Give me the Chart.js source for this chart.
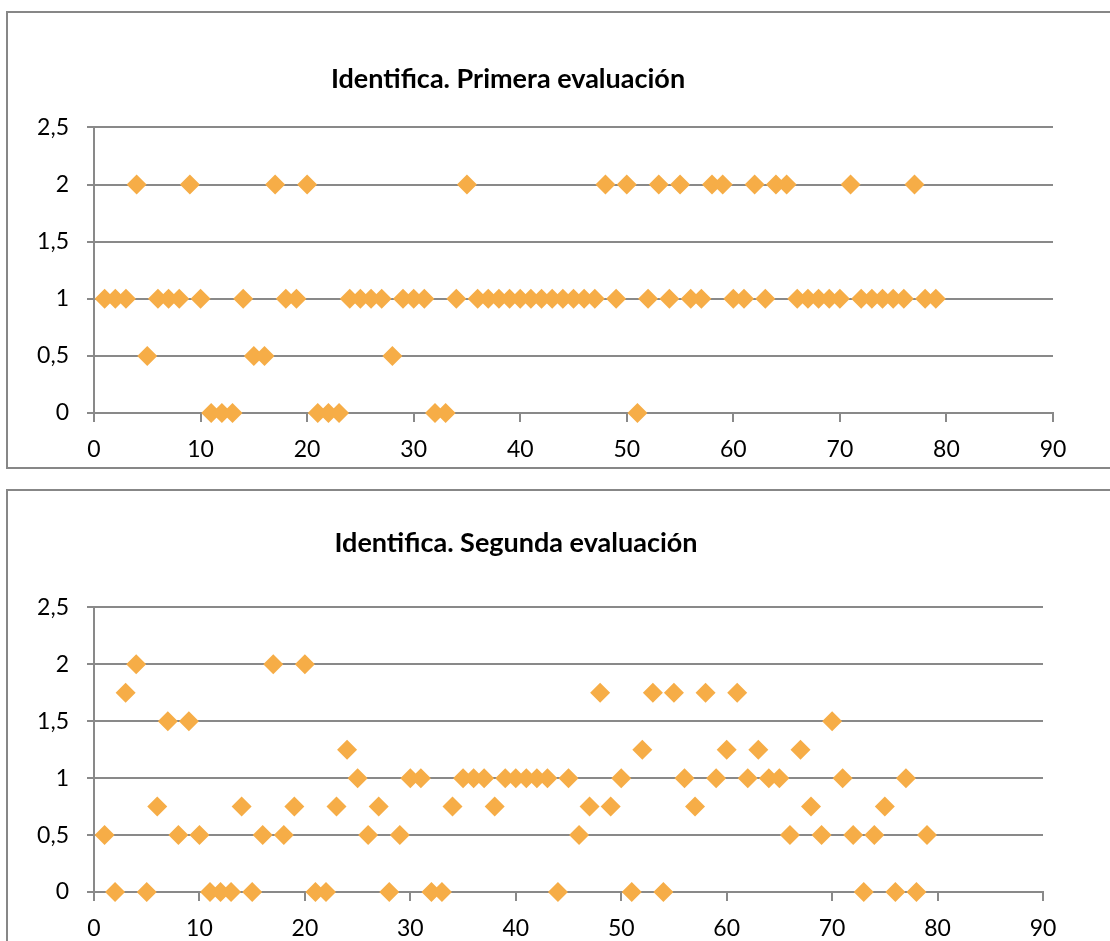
<!DOCTYPE html>
<html lang="es">
<head>
<meta charset="utf-8">
<title>Identifica</title>
<script src="https://cdn.jsdelivr.net/npm/chart.js@4.4.1/dist/chart.umd.min.js"></script>
<style>
  html, body { margin: 0; padding: 0; background: #fff; width: 1110px; height: 941px; overflow: hidden; position: relative; }
  .frame { position: absolute; box-sizing: border-box; border: 2px solid #878787; background: #fff; }
  .holder { position: absolute; }
  canvas { display: block; }
</style>
</head>
<body>
<div class="frame" style="left:6px; top:11px; width:1200px; height:458px;"></div>
<div class="frame" style="left:6px; top:489px; width:1200px; height:600px;"></div>
<div class="holder" style="left:-40px; top:0px; width:1200px; height:470px;"><canvas id="c1" width="1200" height="470"></canvas></div>
<div class="holder" style="left:-40px; top:470px; width:1200px; height:471px;"><canvas id="c2" width="1200" height="471"></canvas></div>
<script>
// Alumnos (eje X) y puntuaciones de cada evaluación
const alumnos = [
  1, 2, 3, 4, 5, 6, 7, 8, 9, 10,
  11, 12, 13, 14, 15, 16, 17, 18, 19, 20,
  21, 22, 23, 24, 25, 26, 27, 28, 29, 30,
  31, 32, 33, 34, 35, 36, 37, 38, 39, 40,
  41, 42, 43, 44, 45, 46, 47, 48, 49, 50,
  51, 52, 53, 54, 55, 56, 57, 58, 59, 60,
  61, 62, 63, 64, 65, 66, 67, 68, 69, 70,
  71, 72, 73, 74, 75, 76, 77, 78, 79
];

const primeraEvaluacion = [
  1, 1, 1, 2, 0.5, 1, 1, 1, 2, 1,
  0, 0, 0, 1, 0.5, 0.5, 2, 1, 1, 2,
  0, 0, 0, 1, 1, 1, 1, 0.5, 1, 1,
  1, 0, 0, 1, 2, 1, 1, 1, 1, 1,
  1, 1, 1, 1, 1, 1, 1, 2, 1, 2,
  0, 1, 2, 1, 2, 1, 1, 2, 2, 1,
  1, 2, 1, 2, 2, 1, 1, 1, 1, 1,
  2, 1, 1, 1, 1, 1, 2, 1, 1
];

const segundaEvaluacion = [
  0.5, 0, 1.75, 2, 0, 0.75, 1.5, 0.5, 1.5, 0.5,
  0, 0, 0, 0.75, 0, 0.5, 2, 0.5, 0.75, 2,
  0, 0, 0.75, 1.25, 1, 0.5, 0.75, 0, 0.5, 1,
  1, 0, 0, 0.75, 1, 1, 1, 0.75, 1, 1,
  1, 1, 1, 0, 1, 0.5, 0.75, 1.75, 0.75, 1,
  0, 1.25, 1.75, 0, 1.75, 1, 0.75, 1.75, 1, 1.25,
  1.75, 1, 1.25, 1, 1, 0.5, 1.25, 0.75, 0.5, 1.5,
  1, 0.5, 0, 0.5, 0.75, 0, 1, 0, 0.5
];

const titulos = ['Identifica. Primera evaluación', 'Identifica. Segunda evaluación'];
const etiquetasY = ['0', '0,5', '1', '1,5', '2', '2,5'];
const etiquetasX = ['0', '10', '20', '30', '40', '50', '60', '70', '80', '90'];

const GRIS = '#898989';
const NARANJA = 'rgb(246,173,71)';
const FUENTE = 'Lato, "Open Sans", sans-serif';

function grafico(id, titulo, valores, geo) {
  const puntos = alumnos.map((a, i) => ({ x: a, y: valores[i] }));
  return new Chart(document.getElementById(id), {
    type: 'scatter',
    data: {
      datasets: [{
        data: puntos,
        clip: false,
        pointStyle: 'rectRot',
        pointRadius: 10,
        pointHoverRadius: 10,
        backgroundColor: NARANJA,
        borderColor: NARANJA,
        borderWidth: 0
      }]
    },
    options: {
      responsive: false,
      animation: false,
      devicePixelRatio: 1,
      layout: { padding: { left: geo.padL, right: geo.padR, top: 0, bottom: 0 } },
      plugins: {
        legend: { display: false },
        tooltip: { enabled: false },
        title: {
          display: true,
          text: titulo,
          color: '#000',
          font: { family: FUENTE, size: 27, weight: 'bold', lineHeight: 1.2 },
          padding: { top: geo.titleTop, bottom: geo.titleBottom }
        }
      },
      scales: {
        x: {
          type: 'linear',
          min: 0, max: 90,
          ticks: {
            stepSize: 10,
            color: '#000',
            padding: 14,
            font: { family: FUENTE, size: 23 },
            callback: (v) => etiquetasX[Math.round(v / 10)]
          },
          grid: { drawOnChartArea: false, drawTicks: true, tickLength: 9, color: GRIS, lineWidth: 2 },
          border: { color: GRIS, width: 2 },
          afterFit: (s) => { s.height = geo.xH; }
        },
        y: {
          type: 'linear',
          min: 0, max: 2.5,
          ticks: {
            stepSize: 0.5,
            color: '#000',
            padding: 18,
            font: { family: FUENTE, size: 23 },
            callback: (v) => etiquetasY[Math.round(v * 2)]
          },
          grid: { drawOnChartArea: true, drawTicks: true, tickLength: 7, color: GRIS, lineWidth: 2 },
          border: { color: GRIS, width: 2 },
          afterFit: (s) => { s.width = geo.yW; }
        }
      }
    }
  });
}

grafico('c1', titulos[0], primeraEvaluacion, { padL: 3, padR: 107, yW: 131, xH: 57, titleTop: 63, titleBottom: 32 });
grafico('c2', titulos[1], segundaEvaluacion, { padL: 29, padR: 117, yW: 105, xH: 49, titleTop: 57, titleBottom: 48 });
</script>
</body>
</html>
